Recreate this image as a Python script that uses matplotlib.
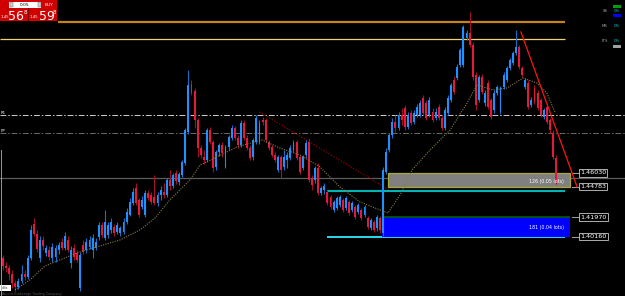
import matplotlib
matplotlib.use("Agg")
import matplotlib.pyplot as plt
from matplotlib.patches import Rectangle
from matplotlib.transforms import blended_transform_factory

W, H = 625, 296

# --- candles (price), oldest first ---
opens = [
    1.3821, 1.3748, 1.3729, 1.3674, 1.3591, 1.3555, 1.3610, 1.3674, 1.3647, 1.3821,
    1.4134, 1.4042, 1.3821, 1.3987, 1.3867, 1.3895, 1.3821, 1.3831, 1.3895, 1.3969,
    1.3913, 1.3987, 1.3775, 1.3913, 1.3867, 1.3545, 1.3941, 1.3895, 1.3923, 1.3895,
    1.3913, 1.4015, 1.4125, 1.4005, 1.4033, 1.4079, 1.4107, 1.4061, 1.4051, 1.4061,
    1.4153, 1.4217, 1.4327, 1.4465, 1.4355, 1.4291, 1.4217, 1.4419, 1.4401, 1.4383,
    1.4327, 1.4401, 1.4429, 1.4401, 1.4539, 1.4484, 1.4603, 1.4521, 1.4585, 1.4695,
    1.4981, 1.5422, 1.5358, 1.5091, 1.4833, 1.4751, 1.4723, 1.4999, 1.4889, 1.4659,
    1.4797, 1.4861, 1.4659, 1.4843, 1.4926, 1.5017, 1.4926, 1.4861, 1.5063, 1.4926,
    1.4833, 1.4751, 1.4889, 1.4889, 1.5091, 1.5091, 1.4889, 1.4843, 1.4769, 1.4631,
    1.4751, 1.4659, 1.4723, 1.4741, 1.4815, 1.4889, 1.4751, 1.4649, 1.4769, 1.4889,
    1.4557, 1.4539, 1.4649, 1.4419, 1.4447, 1.4429, 1.4383, 1.4263, 1.4281, 1.4309,
    1.4355, 1.4281, 1.4337, 1.4263, 1.4291, 1.4245, 1.4263, 1.4217, 1.4189, 1.4097,
    1.4153, 1.4097, 1.4189, 1.4051, 1.4613, 1.4815, 1.4953, 1.5073, 1.5017, 1.5137,
    1.5201, 1.5027, 1.5155, 1.5073, 1.5137, 1.5137, 1.5293, 1.5247, 1.5137, 1.5165,
    1.5109, 1.5211, 1.5109, 1.5017, 1.5155, 1.5275, 1.5459, 1.5477, 1.5597, 1.5597,
    1.5845, 1.5891, 1.5781, 1.5505, 1.5275, 1.5486, 1.5247, 1.5431, 1.5275, 1.5183,
    1.5339, 1.5165, 1.5395, 1.5459, 1.5569, 1.5615, 1.5707, 1.5763, 1.5569, 1.5395,
    1.5431, 1.5229, 1.5385, 1.5339, 1.5275, 1.5119, 1.5211, 1.5091, 1.4971, 1.4741,
]
highs = [
    1.3849, 1.3785, 1.3757, 1.3711, 1.3619, 1.3637, 1.3757, 1.3711, 1.3849, 1.4125,
    1.4189, 1.4079, 1.4024, 1.4024, 1.3941, 1.3932, 1.3959, 1.3941, 1.3969, 1.4005,
    1.4061, 1.4024, 1.3932, 1.3950, 1.3895, 1.3877, 1.3987, 1.4005, 1.4024, 1.4042,
    1.4005, 1.4153, 1.4153, 1.4263, 1.4153, 1.4189, 1.4134, 1.4153, 1.4116, 1.4189,
    1.4281, 1.4373, 1.4465, 1.4511, 1.4373, 1.4392, 1.4447, 1.4447, 1.4429, 1.4585,
    1.4429, 1.4484, 1.4511, 1.4557, 1.4631, 1.4603, 1.4631, 1.4613, 1.4723, 1.5017,
    1.5551, 1.5459, 1.5385, 1.5109, 1.4861, 1.4815, 1.5017, 1.5027, 1.4907, 1.4815,
    1.4879, 1.4889, 1.4861, 1.4953, 1.5045, 1.5036, 1.4953, 1.5091, 1.5091, 1.4953,
    1.4861, 1.4926, 1.5137, 1.5091, 1.5119, 1.5109, 1.4907, 1.4861, 1.4797, 1.4769,
    1.4769, 1.4815, 1.4797, 1.4861, 1.4907, 1.4907, 1.4769, 1.4769, 1.4907, 1.4926,
    1.4585, 1.4668, 1.4695, 1.4484, 1.4511, 1.4447, 1.4401, 1.4355, 1.4392, 1.4401,
    1.4373, 1.4392, 1.4355, 1.4346, 1.4309, 1.4327, 1.4281, 1.4309, 1.4208, 1.4189,
    1.4171, 1.4217, 1.4208, 1.4660, 1.4833, 1.4971, 1.5109, 1.5137, 1.5165, 1.5201,
    1.5229, 1.5165, 1.5183, 1.5183, 1.5238, 1.5275, 1.5321, 1.5275, 1.5303, 1.5201,
    1.5201, 1.5238, 1.5137, 1.5211, 1.5321, 1.5431, 1.5496, 1.5606, 1.5753, 1.5965,
    1.5919, 1.6085, 1.5808, 1.5532, 1.5505, 1.5514, 1.5367, 1.5459, 1.5293, 1.5367,
    1.5413, 1.5404, 1.5532, 1.5588, 1.5661, 1.5726, 1.5919, 1.5781, 1.5588, 1.5477,
    1.5459, 1.5303, 1.5413, 1.5367, 1.5293, 1.5201, 1.5229, 1.5109, 1.4999, 1.4769,
]
lows = [
    1.3711, 1.3693, 1.3619, 1.3545, 1.3518, 1.3536, 1.3591, 1.3619, 1.3628, 1.3803,
    1.4024, 1.3877, 1.3785, 1.3895, 1.3840, 1.3803, 1.3785, 1.3785, 1.3858, 1.3895,
    1.3895, 1.3877, 1.3729, 1.3803, 1.3785, 1.3518, 1.3858, 1.3867, 1.3904, 1.3821,
    1.3895, 1.3987, 1.4005, 1.3987, 1.4005, 1.4051, 1.4024, 1.4042, 1.4024, 1.4042,
    1.4134, 1.4208, 1.4309, 1.4309, 1.4199, 1.4272, 1.4199, 1.4355, 1.4318, 1.4309,
    1.4300, 1.4355, 1.4373, 1.4383, 1.4447, 1.4465, 1.4502, 1.4493, 1.4567, 1.4677,
    1.4962, 1.5321, 1.5017, 1.4751, 1.4741, 1.4686, 1.4705, 1.4870, 1.4613, 1.4631,
    1.4760, 1.4751, 1.4649, 1.4815, 1.4907, 1.4907, 1.4833, 1.4843, 1.4907, 1.4815,
    1.4723, 1.4723, 1.4870, 1.4870, 1.5045, 1.4889, 1.4815, 1.4751, 1.4705, 1.4613,
    1.4557, 1.4631, 1.4649, 1.4723, 1.4797, 1.4723, 1.4594, 1.4631, 1.4741, 1.4521,
    1.4447, 1.4511, 1.4401, 1.4401, 1.4410, 1.4309, 1.4272, 1.4245, 1.4263, 1.4291,
    1.4245, 1.4263, 1.4217, 1.4245, 1.4180, 1.4226, 1.4171, 1.4199, 1.4088, 1.4079,
    1.4061, 1.4070, 1.4051, 1.4024, 1.4594, 1.4797, 1.4926, 1.4981, 1.4999, 1.5045,
    1.4999, 1.5008, 1.5045, 1.5054, 1.5119, 1.5119, 1.5137, 1.5091, 1.5119, 1.5073,
    1.5091, 1.5091, 1.4999, 1.4999, 1.5137, 1.5257, 1.5330, 1.5459, 1.5579, 1.5579,
    1.5827, 1.5763, 1.5459, 1.5183, 1.5257, 1.5330, 1.5220, 1.5192, 1.5100, 1.5155,
    1.5321, 1.5146, 1.5376, 1.5441, 1.5551, 1.5597, 1.5689, 1.5560, 1.5486, 1.5376,
    1.5192, 1.5211, 1.5238, 1.5183, 1.5119, 1.5100, 1.5054, 1.4971, 1.4732, 1.4502,
]
closes = [
    1.3748, 1.3729, 1.3674, 1.3591, 1.3555, 1.3610, 1.3674, 1.3647, 1.3821, 1.4079,
    1.4042, 1.3904, 1.3987, 1.3932, 1.3913, 1.3831, 1.3923, 1.3913, 1.3941, 1.3913,
    1.4024, 1.3895, 1.3895, 1.3831, 1.3803, 1.3849, 1.3877, 1.3969, 1.3987, 1.4005,
    1.3969, 1.4125, 1.4033, 1.4153, 1.4125, 1.4153, 1.4051, 1.4125, 1.4097, 1.4153,
    1.4245, 1.4337, 1.4429, 1.4327, 1.4217, 1.4355, 1.4419, 1.4373, 1.4337, 1.4327,
    1.4401, 1.4447, 1.4401, 1.4539, 1.4484, 1.4585, 1.4530, 1.4594, 1.4705, 1.4999,
    1.5413, 1.5339, 1.5091, 1.4833, 1.4769, 1.4723, 1.4999, 1.4889, 1.4649, 1.4797,
    1.4861, 1.4787, 1.4843, 1.4935, 1.5017, 1.4926, 1.4861, 1.5063, 1.4926, 1.4833,
    1.4741, 1.4907, 1.5109, 1.5063, 1.5073, 1.4907, 1.4833, 1.4769, 1.4723, 1.4751,
    1.4631, 1.4751, 1.4769, 1.4833, 1.4879, 1.4741, 1.4613, 1.4751, 1.4879, 1.4539,
    1.4493, 1.4649, 1.4419, 1.4465, 1.4484, 1.4327, 1.4291, 1.4337, 1.4373, 1.4383,
    1.4263, 1.4373, 1.4235, 1.4327, 1.4199, 1.4309, 1.4189, 1.4291, 1.4107, 1.4171,
    1.4079, 1.4199, 1.4079, 1.4631, 1.4797, 1.4953, 1.5073, 1.5017, 1.5137, 1.5091,
    1.5027, 1.5137, 1.5063, 1.5155, 1.5211, 1.5247, 1.5155, 1.5109, 1.5275, 1.5091,
    1.5165, 1.5109, 1.5017, 1.5183, 1.5293, 1.5413, 1.5349, 1.5579, 1.5735, 1.5947,
    1.5891, 1.5781, 1.5486, 1.5229, 1.5486, 1.5349, 1.5339, 1.5211, 1.5119, 1.5339,
    1.5395, 1.5385, 1.5505, 1.5569, 1.5643, 1.5707, 1.5763, 1.5579, 1.5505, 1.5459,
    1.5211, 1.5275, 1.5257, 1.5201, 1.5137, 1.5183, 1.5073, 1.4999, 1.4751, 1.4521,
]

# moving average (bar index, price)
ma_idx = [3.9, 8.7, 13.6, 18.4, 24.9, 31.4, 37.9, 44.3, 49.2, 54.0, 60.5, 63.8,
          69.3, 75.7, 83.8, 89.6, 96.1, 102.6, 109.0, 115.5, 122.0, 124.6, 128.5,
          132.4, 138.2, 144.7, 150.2, 153.4, 158.6, 163.1, 168.3, 172.8, 176.0, 178.6]
ma_val = [1.3527, 1.3619, 1.3748, 1.3803, 1.3877, 1.3932, 1.3987, 1.4079, 1.4189,
          1.4355, 1.4539, 1.4677, 1.4751, 1.4843, 1.4907, 1.4833, 1.4769, 1.4659,
          1.4475, 1.4337, 1.4263, 1.4235, 1.4401, 1.4631, 1.4815, 1.4999, 1.5247,
          1.5413, 1.5367, 1.5385, 1.5477, 1.5431, 1.5339, 1.5165]

# horizontal levels
orange_level = 1.5993
yellow_level = 1.5836
dash_levels = [1.5137, 1.4971]
grey_level = 1.4557
cyan_levels = [1.4438, 1.4016]
tp_box = [1.44783, 1.46030]
sl_box = [1.40160, 1.41970]
tp_text = "126 (0.05 lots)"
sl_text = "181 (0.04 lots)"
label_prices = [1.46030, 1.44783, 1.41970, 1.40160]
label_texts = ["1.46030", "1.44783", "1.41970", "1.40160"]

# trend lines (bar index, price)
red_trend_x = [167.6, 185.8]
red_trend_y = [1.5901, 1.4475]
dark_trend_x = [83, 125]
dark_trend_y = [1.5165, 1.4447]

BULL, BEAR = "#1e90ff", "#e6193c"
BULL_WICK, BEAR_WICK = "#1a6fc4", "#a0102a"

fig = plt.figure(figsize=(W / 100, H / 100), dpi=100, facecolor="black")
ax = fig.add_axes([0, 0, 1, 1], facecolor="black")
step = 3.09  # px per bar
x_left = -3 / step
x_right = x_left + W / step
ax.set_xlim(x_left, x_right)
ax.set_ylim(1.3471, 1.6195)
ax.axis("off")
right_end = 181.9

# levels
ax.hlines(orange_level, 17.8, right_end, color="#c8821a", lw=1.6, zorder=1)
ax.hlines(yellow_level, x_left, right_end, color="#f0d070", lw=0.9, zorder=1)
ax.axhline(dash_levels[0], color="#d0d0d0", lw=0.7, dashes=(6, 2, 1.5, 2), zorder=1)
ax.axhline(dash_levels[1], color="#6a6a6a", lw=0.7, dashes=(6, 2, 1.5, 2), zorder=1)
ax.axhline(grey_level, color="#5c5c5c", lw=0.9, zorder=1)
ax.hlines(cyan_levels[0], 105, right_end, color="#00b4b4", lw=1.5, zorder=1)
ax.hlines(cyan_levels[1], 105, right_end, color="#30e8ff", lw=1.3, zorder=1)

# order boxes
box_right = 183.5
ax.add_patch(Rectangle((124.5, tp_box[0]), box_right - 124.5, tp_box[1] - tp_box[0],
                       facecolor="#808080", edgecolor="#a8a83c", lw=0.9, zorder=2))
ax.add_patch(Rectangle((122.7, sl_box[0]), box_right - 122.7, sl_box[1] - sl_box[0],
                       facecolor="#0000ff", edgecolor="none", zorder=2))
ax.hlines(sl_box[1], 122.7, box_right, color="#006000", lw=1.2, zorder=2)
ax.text(181.5, sum(tp_box) / 2 - 0.0015, tp_text, color="white", fontsize=3.4,
        ha="right", va="center", zorder=7)
ax.text(181.5, sum(sl_box) / 2 - 0.0006, sl_text, color="white", fontsize=3.4,
        ha="right", va="center", zorder=7)

# trend lines and MA
ax.plot(dark_trend_x, dark_trend_y, color="#900000", lw=0.9, ls=(0, (1, 1.3)), zorder=3)
ax.plot(ma_idx, ma_val, color="#8a7a48", lw=0.8, ls=(0, (1, 1.2)), zorder=5)
ax.plot(red_trend_x, red_trend_y, color="#ff1414", lw=0.9, zorder=6)

# candles
for i in range(len(closes)):
    o, h, l, c = opens[i], highs[i], lows[i], closes[i]
    up = c >= o
    ax.vlines(i, l, h, color=BULL_WICK if up else BEAR_WICK, lw=0.8, zorder=3)
    ax.bar(i, max(abs(c - o), 0.0004), bottom=min(o, c), width=0.62,
           color=BULL if up else BEAR, lw=0, zorder=4)

# price labels on the right
trans = blended_transform_factory(ax.transAxes, ax.transData)
for p, t in zip(label_prices, label_texts):
    ax.plot([572 / W, 579 / W], [p, p], transform=trans, color="#c0c0c0", lw=0.6)
    ax.text(580 / W, p, t, transform=trans, fontsize=4.6, color="white",
            ha="left", va="center",
            bbox=dict(boxstyle="square,pad=0.18", fc="black", ec="#c8c8c8", lw=0.6))

# overlay in pixel units for terminal widgets
ui = fig.add_axes([0, 0, 1, 1], facecolor="none")
ui.set_xlim(0, W)
ui.set_ylim(H, 0)
ui.axis("off")

ui.add_patch(Rectangle((0, 0), 57, 21, fc="#d00000", ec="none"))
ui.add_patch(Rectangle((27.5, 8), 1, 13, fc="#800000", ec="none"))
ui.add_patch(Rectangle((9, 1.5), 32, 6, fc="white", ec="none"))
ui.add_patch(Rectangle((9.5, 2), 3, 5, fc="#cfcfcf", ec="#606060", lw=0.3))
ui.add_patch(Rectangle((37.5, 2), 3, 5, fc="#cfcfcf", ec="#606060", lw=0.3))
ui.text(25, 4.7, "0.05", fontsize=3.2, color="black", ha="center", va="center")
ui.text(49, 4.7, "BUY", fontsize=3.2, color="white", ha="center", va="center")
ui.text(0.5, 17, "1.45", fontsize=2.8, color="white", ha="left", va="center")
ui.text(8, 16, "56", fontsize=9, color="white", ha="left", va="center")
ui.text(23.5, 12, "8", fontsize=4, color="white", ha="left", va="center")
ui.text(30, 17, "1.45", fontsize=2.8, color="white", ha="left", va="center")
ui.text(38.5, 16, "59", fontsize=9, color="white", ha="left", va="center")
ui.text(53, 12, "8", fontsize=4, color="white", ha="left", va="center")

ui.add_patch(Rectangle((613, 5), 8, 2.5, fc="#00a000", ec="none"))
ui.add_patch(Rectangle((613, 13.5), 8, 3.5, fc="#0000ff", ec="none"))
ui.add_patch(Rectangle((613, 45), 8, 3, fc="#a0a0a0", ec="none"))
for yy, name in zip([11, 26, 41.5], ["SS", "MS", "LTS"]):
    ui.text(608, yy, name, fontsize=2.8, color="#a8a8a8", ha="right", va="center")
    ui.text(617, yy, "0%", fontsize=2.8, color="#00c8c8", ha="center", va="center")

ui.text(0.5, 113, "R1", fontsize=2.8, color="white", ha="left", va="center")
ui.text(0.5, 131, "PP", fontsize=2.8, color="white", ha="left", va="center")
ui.plot([0.7, 0.7], [150, 296], color="#b0b0b0", lw=0.6)
ui.add_patch(Rectangle((0, 285), 11, 6, fc="white", ec="none"))
ui.text(5.5, 288, "alfa", fontsize=2.4, color="#404040", ha="center", va="center")
ui.text(2, 294.5, "Aurora Brokerage Trading Company", fontsize=2.4,
        color="#505050", ha="left", va="center")

fig.savefig("out.png", dpi=100, facecolor="black")
